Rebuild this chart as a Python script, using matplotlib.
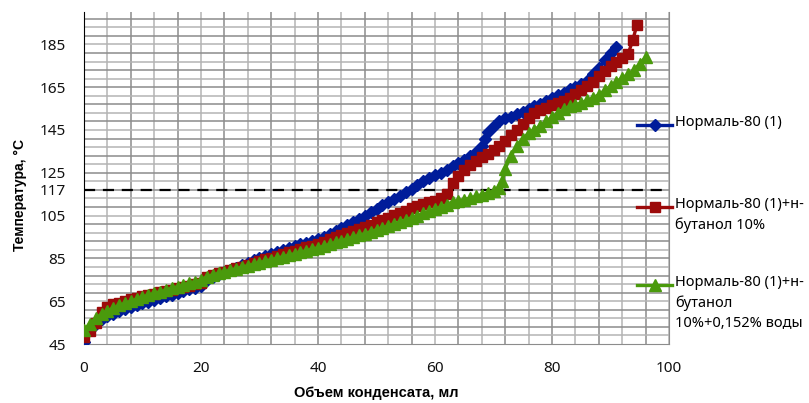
import matplotlib
matplotlib.use("Agg")
import matplotlib.pyplot as plt
from matplotlib.lines import Line2D

plt.rcParams['font.family'] = ['Noto Sans', 'DejaVu Sans']

# Нормаль-80 (1)
vol_1 = [0, 1, 2, 3, 4, 5, 6, 7, 8, 9, 10, 11, 12, 13, 14, 15, 16, 17, 18, 19, 20,
         21, 22, 23, 24, 25, 26, 27, 28, 29, 30, 31, 32, 33, 34, 35, 36, 37, 38, 39, 40,
         41, 42, 43, 44, 45, 46, 47, 48, 49, 50, 51, 52, 53, 54, 55, 56, 57, 58, 59, 60,
         61, 62, 63, 64, 65, 66, 67, 68, 68.5, 69, 70, 71, 72, 73, 74, 75, 76, 77, 78, 79, 80,
         81, 82, 83, 84, 85, 86, 87, 88, 89, 90, 91]
temp_1 = [46, 51.5, 54.5, 56.5, 58, 59.2, 60.3, 61.3, 62.2, 63.1, 64, 64.8, 65.6, 66.4, 67.2, 68, 68.8, 69.6, 70.5, 71.3, 72.2,
          75, 76.5, 77.5, 78.5, 79.6, 80.7, 81.8, 83, 84.2, 85.3, 86.3, 87.2, 88.1, 89, 89.8, 90.6, 91.5, 92.3, 93.2, 94,
          94.8, 96.5, 98, 99.3, 100.6, 102, 103.5, 105, 106.7, 108.3, 109.8, 111.2, 112.8, 114.3, 115.8, 117.5, 119.5, 121, 122.5, 124,
          125, 126.3, 128, 129.5, 131, 132.8, 134.5, 137.5, 141, 144, 147, 149, 150.5, 151.3, 152.5, 153.5, 154.8, 156, 157.2, 158.5, 160,
          161.2, 162.5, 164, 165.3, 166.5, 168, 171, 174, 177.5, 181, 184]

# Нормаль-80 (1)+н-бутанол 10%
vol_2 = [0, 1, 2, 3, 4, 5, 6, 7, 8, 9, 10, 11, 12, 13, 14, 15, 16, 17, 18, 19, 20,
         21, 22, 23, 24, 25, 26, 27, 28, 29, 30, 31, 32, 33, 34, 35, 36, 37, 38, 39, 40,
         41, 42, 43, 44, 45, 46, 47, 48, 49, 50, 51, 52, 53, 54, 55, 56, 57, 58, 59, 60,
         61, 62, 63, 64, 65, 66, 67, 68, 69, 70, 71, 72, 73, 74, 75, 76, 77, 78, 79, 80,
         81, 82, 83, 84, 85, 86, 87, 88, 89, 90, 91, 92, 93, 93.8, 94.5]
temp_2 = [48.5, 51, 55, 60, 62.5, 63.5, 64.3, 65, 65.8, 66.5, 67.2, 67.8, 68.5, 69.1, 69.8, 70.4, 71, 71.7, 72.3, 73, 73.5,
          76.5, 77.2, 78, 78.8, 79.6, 80.4, 81.2, 82, 82.9, 83.8, 84.6, 85.4, 86.2, 87, 87.8, 88.6, 89.4, 90.2, 91, 91.8,
          92.5, 94, 95, 95.8, 96.8, 97.8, 98.8, 99.8, 100.8, 101.8, 102.9, 104, 105.1, 106.2, 107.3, 108.4, 109.5, 110.5, 111.3, 112,
          113, 115, 120, 123.5, 126.3, 128.5, 130.5, 132.5, 134, 135.5, 137.5, 140, 142.5, 145, 147.8, 150.5, 152.8, 154.3, 155.5, 156.6,
          157.5, 158.5, 160, 162, 163.7, 165.5, 167.5, 170, 172.8, 175, 177, 178.5, 180.5, 187, 194]

# Нормаль-80 (1)+н-бутанол 10%+0,152% воды
vol_3 = [0, 1, 2, 3, 4, 5, 6, 7, 8, 9, 10, 11, 12, 13, 14, 15, 16, 17, 18, 19, 20,
         21, 22, 23, 24, 25, 26, 27, 28, 29, 30, 31, 32, 33, 34, 35, 36, 37, 38, 39, 40,
         41, 42, 43, 44, 45, 46, 47, 48, 49, 50, 51, 52, 53, 54, 55, 56, 57, 58, 59, 60,
         61, 62, 63, 64, 65, 66, 67, 68, 69, 70, 71, 71.5, 72, 73, 74, 75, 76, 77, 78, 79, 80,
         81, 82, 83, 84, 85, 86, 87, 88, 89, 90, 91, 92, 93, 94, 95, 96]
temp_3 = [51.5, 54.5, 57, 59, 60.5, 61.8, 63, 64, 65, 66, 67, 67.8, 68.6, 69.4, 70.2, 71, 71.8, 72.6, 73.4, 74.2, 75,
          76.5, 77.3, 78, 78.8, 79.5, 80.2, 80.9, 81.6, 82.3, 83, 83.7, 84.4, 85.1, 85.8, 86.5, 87.2, 87.9, 88.6, 89.3, 90,
          90.7, 91.5, 92.5, 93.3, 94.1, 94.9, 95.7, 96.6, 97.5, 98.4, 99.3, 100.2, 101.1, 102, 103, 104, 105, 106, 107, 108,
          109, 110, 111.5, 112, 112.5, 113.2, 114, 114.8, 115.6, 116.5, 118, 121, 127, 133, 137.5, 141, 143.5, 145.2, 147, 149, 151,
          153, 154.8, 156, 156.8, 157.6, 158.8, 160, 161.5, 163.5, 165.5, 167.5, 169.3, 171, 173, 176, 179]

labels = ['Нормаль-80 (1)',
          'Нормаль-80 (1)+н-\nбутанол 10%',
          'Нормаль-80 (1)+н-\nбутанол\n10%+0,152% воды']
colors = ['#001C9A', '#9C0A0A', '#4A9A0C']
markers = ['D', 's', '^']
msizes = [6, 7.5, 8]

y_ticks = [45, 65, 85, 105, 117, 125, 145, 165, 185]
x_ticks = [0, 20, 40, 60, 80, 100]

fig = plt.figure(figsize=(8.09, 4.03), dpi=100)
ax = fig.add_axes([0.1038, 0.1464, 0.7232, 0.8231])
ax.set_xlim(0, 100)
ax.set_ylim(45, 200)

# grid
for i, x in enumerate(range(4, 101, 4)):
    ax.axvline(x, color='#8C8C8C' if i % 2 else '#B4B4B4', lw=1.1, zorder=0)
for i, y in enumerate(range(49, 200, 4)):
    ax.axhline(y, color='#8C8C8C' if i % 2 else '#B4B4B4', lw=1.1, zorder=0)

ax.axhline(117, color='black', lw=1.6, ls=(0, (5, 3.5)), zorder=1)

series = [(vol_1, temp_1), (vol_2, temp_2), (vol_3, temp_3)]
for (xs, ys), c, m, ms in zip(series, colors, markers, msizes):
    ax.plot(xs, ys, color=c, lw=2.4, marker=m, ms=ms, mec=c, mfc=c, zorder=3)

ax.set_xticks(x_ticks)
ax.set_yticks(y_ticks)
ax.tick_params(length=0, labelsize=11, pad=13, colors='#111111')
ax.tick_params(axis='x', pad=12)

ax.spines['top'].set_visible(False)
ax.spines['left'].set_color('black')
ax.spines['bottom'].set_color('#8C8C8C')
ax.spines['right'].set_color('#8C8C8C')

bold = ['Liberation Sans', 'DejaVu Sans']
fig.text(0.025, 0.515, 'Температура, °С', rotation=90, ha='center', va='center',
         fontsize=10, fontweight='bold', family=bold)
fig.text(0.465, 0.025, 'Объем конденсата, мл', ha='center', va='center',
         fontsize=10.5, fontweight='bold', family=bold)

# legend drawn by hand so it overlaps the plot edge like the original
leg_y = [1 - 125 / 403, 1 - 207 / 403, 1 - 285 / 403]
x0, x1 = 637 / 809, 672 / 809
for y, c, m, ms, lab in zip(leg_y, colors, markers, msizes, labels):
    fig.add_artist(Line2D([x0, x1], [y, y], color=c, lw=2.4, transform=fig.transFigure))
    fig.add_artist(Line2D([(x0 + x1) / 2], [y], color=c, marker=m, ms=ms, mec=c, mfc=c,
                          transform=fig.transFigure))
    fig.text(675 / 809, y + 10 / 403, lab, ha='left', va='top', fontsize=10.5,
             linespacing=1.45)

fig.savefig('out.png', dpi=100)
